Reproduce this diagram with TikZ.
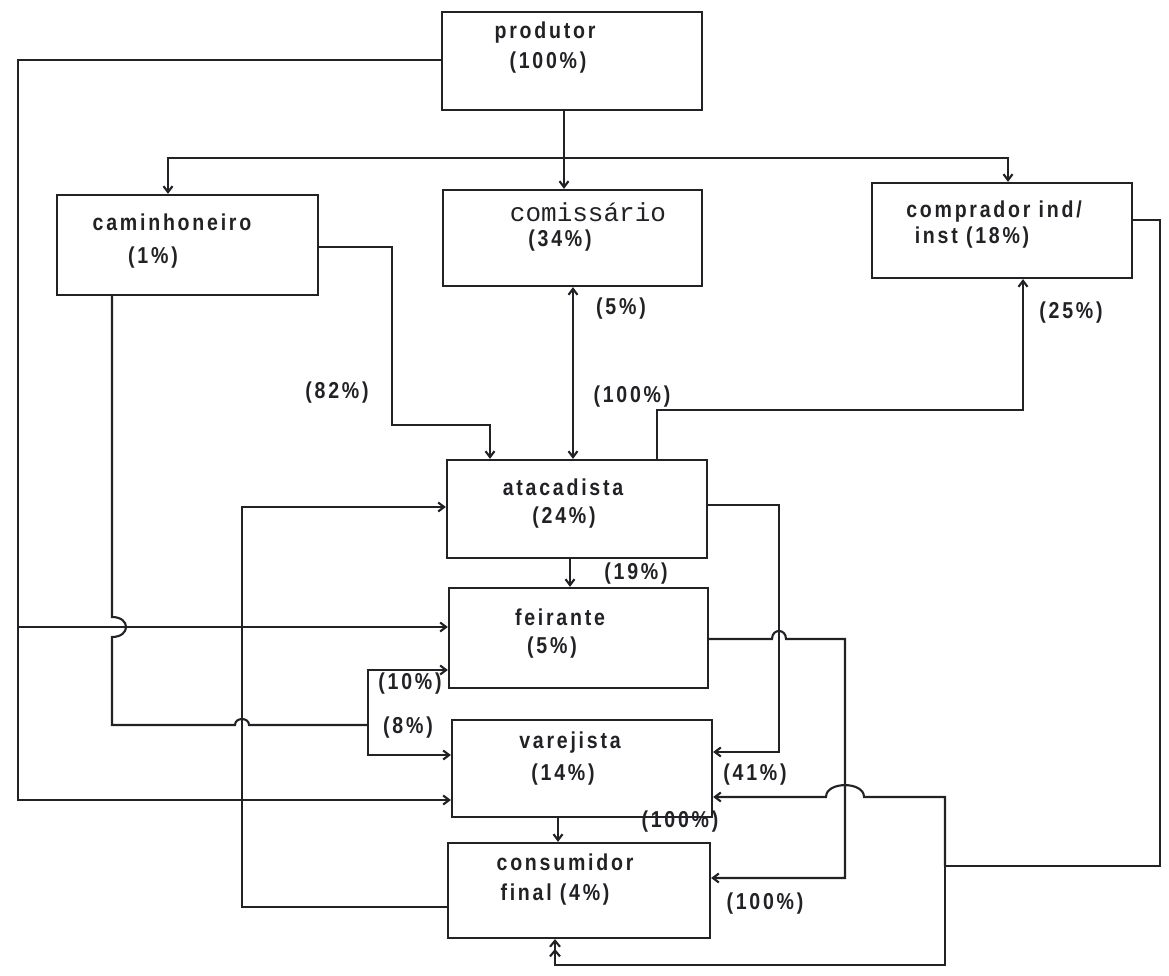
\documentclass[tikz,border=0pt]{standalone}
\usepackage{fontspec}
\setmainfont{Liberation Sans}[LetterSpace=12, FakeStretch=0.85]
\newfontfamily\monofam{Liberation Mono}
\usetikzlibrary{arrows.meta}

\definecolor{ink}{RGB}{34,34,38}

\begin{document}
\begin{tikzpicture}[x=1pt,y=-1pt,
  box/.style={draw=ink, line width=2.2pt, rectangle, inner sep=0pt},
  txt/.style={text=ink, font=\fontsize{23}{26}\selectfont\bfseries, inner sep=0pt},
  pct/.style={txt},
  wire/.style={draw=ink, line width=2.1pt},
  arr/.style={wire, -{Straight Barb[length=6pt,width=9pt]}},
  arrs/.style={wire, {Straight Barb[length=6pt,width=9pt]}-{Straight Barb[length=6pt,width=9pt]}},
  arrdbl/.style={wire, -{Straight Barb[length=6pt,width=10pt,sep=1pt]Straight Barb[length=6pt,width=10pt]}},
  hop/.style={out=90,in=90,looseness=#1},
  hopr/.style={out=0,in=0,looseness=#1},
]
\useasboundingbox (0,0) rectangle (1169,976);
\fill[white] (0,0) rectangle (1169,976);

% boxes
\node[box, minimum width=260pt, minimum height=98pt]  (prod)  at (572,61)    {};
\node[box, minimum width=261pt, minimum height=100pt] (cam)   at (187.5,245) {};
\node[box, minimum width=259pt, minimum height=96pt]  (com)   at (572.5,238) {};
\node[box, minimum width=260pt, minimum height=95pt]  (compr) at (1002,230.5) {};
\node[box, minimum width=260pt, minimum height=98pt]  (ata)   at (577,509)   {};
\node[box, minimum width=259pt, minimum height=100pt] (fei)   at (578.5,638) {};
\node[box, minimum width=260pt, minimum height=97pt]  (var)   at (582,768.5) {};
\node[box, minimum width=262pt, minimum height=95pt]  (cons)  at (579,890.5) {};

% box texts
\node[txt] (prodA) at (545,33) {produtor};
\node[txt] (prodB) at (548,63) {(100\%)};
\node[txt] (camA) at (172,222) {caminhoneiro};
\node[txt] (camB) at (153,258) {(1\%)};
\node[txt, font=\monofam\fontsize{26}{30}\selectfont] (comA) at (588,212) {comissário};
\node[txt] (comB) at (560,241) {(34\%)};
\node[txt] (comprA) at (994,212) {comprador ind/};
\node[txt] (comprB) at (972,238) {inst (18\%)};
\node[txt] (ataA) at (563,487) {atacadista};
\node[txt] (ataB) at (564,518) {(24\%)};
\node[txt] (feiA) at (560,617) {feirante};
\node[txt] (feiB) at (552,648) {(5\%)};
\node[txt] (varA) at (570,743) {varejista};
\node[txt] (varB) at (563,775) {(14\%)};
\node[txt] (consA) at (565,862) {consumidor};
\node[txt] (consB) at (555,895) {final (4\%)};

% produtor to the three buyers
\coordinate (bus)  at (564,158);
\coordinate (busL) at (168,158);
\coordinate (busR) at (1008,158);
\draw[wire] (prod.south -| bus) -- (bus);
\draw[arr] (bus) -- (com.north -| bus);
\draw[arr] (bus) -- (busL) -- (cam.north -| busL);
\draw[arr] (bus) -- (busR) -- (compr.north -| busR);

% produtor down the left side to feirante and varejista
\coordinate (pl)  at (18,60);
\coordinate (plb) at (18,800);
\coordinate (pf)  at (18,627);
\draw[arr] (prod.west |- pl) -- (pl) -- (plb) -- (var.west |- plb);
\draw[arr] (pf) -- (fei.west |- pf);

% caminhoneiro to atacadista
\coordinate (c1) at (392,247);
\coordinate (c2) at (392,425);
\coordinate (c3) at (490,425);
\draw[arr] (cam.east |- c1) -- (c1) -- (c2) -- (c3) -- (ata.north -| c3);
\node[pct] (p82) at (337,393) {(82\%)};

% caminhoneiro to feirante and varejista
\coordinate (d0) at (112,617);
\coordinate (d1) at (112,725);
\coordinate (d2) at (368,725);
\coordinate (d3) at (368,670);
\coordinate (d4) at (368,755);
\draw[wire] (cam.south -| d0) -- (d0) to[hopr=2.4] ++(0,20) -- (d1)
  -- ++(123,0) to[hop=1.46] ++(14,0) -- (d2);
\draw[arr] (d2) -- (d3) -- (fei.west |- d3);
\draw[arr] (d2) -- (d4) -- (var.west |- d4);
\node[pct] (p10) at (410,684) {(10\%)};
\node[pct] (p8)  at (408,728) {(8\%)};

% comissario and atacadista
\coordinate (e) at (573,300);
\draw[arrs] (com.south -| e) -- (ata.north -| e);
\node[pct] (p5)   at (621,309) {(5\%)};
\node[pct] (p100a) at (632,397) {(100\%)};

% atacadista to comprador
\coordinate (f1) at (657,410);
\coordinate (f2) at (1023,410);
\draw[arr] (ata.north -| f1) -- (f1) -- (f2) -- (compr.south -| f2);
\node[pct] (p25) at (1071,313) {(25\%)};

% atacadista to varejista
\coordinate (g1) at (779,505);
\coordinate (g2) at (779,752);
\draw[arr] (ata.east |- g1) -- (g1) -- (g2) -- (var.east |- g2);
\node[pct] (p41) at (755,775) {(41\%)};

% atacadista to feirante
\coordinate (h) at (570,570);
\draw[arr] (ata.south -| h) -- (fei.north -| h);
\node[pct] (p19) at (636,574) {(19\%)};

% feirante to consumidor
\coordinate (k0) at (772,639);
\coordinate (k1) at (845,639);
\coordinate (k2) at (845,878);
\draw[arr] (fei.east |- k0) -- (k0) to[hop=1.95] ++(14,0) -- (k1) -- (k2) -- (cons.east |- k2);
\node[pct] (p100c) at (765,904) {(100\%)};

% varejista to consumidor
\coordinate (m) at (558,830);
\draw[arr] (var.south -| m) -- (cons.north -| m);
\node[pct] (p100b) at (680,822) {(100\%)};

% comprador round the right side to varejista and consumidor
\coordinate (n1) at (1160,220);
\coordinate (n2) at (1160,866);
\coordinate (j)  at (945,866);
\coordinate (j1) at (945,797);
\coordinate (j2) at (945,965);
\coordinate (j3) at (555,965);
\coordinate (jh) at (864,797);
\draw[wire] (compr.east |- n1) -- (n1) -- (n2) -- (j);
\draw[arr] (j) -- (j1) -- (jh) to[hop=1.07] ++(-38,0) -- (var.east |- j1);
\draw[arrdbl] (j) -- (j2) -- (j3) -- (cons.south -| j3);

% consumidor back to atacadista
\coordinate (q1) at (242,907);
\coordinate (q2) at (242,507);
\draw[arr] (cons.west |- q1) -- (q1) -- (q2) -- (ata.west |- q2);
\end{tikzpicture}
\end{document}
